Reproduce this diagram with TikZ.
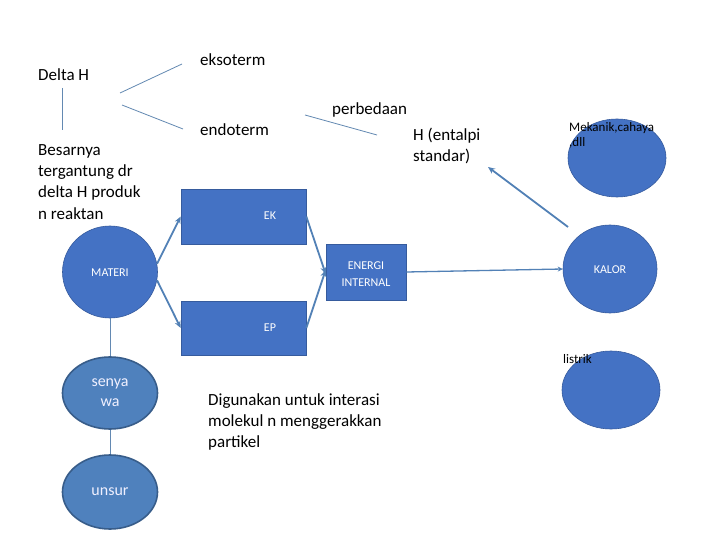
\documentclass[tikz,border=0pt]{standalone}
\usepackage{fontspec}
\setmainfont{Carlito}
\usepackage{xcolor}
\usetikzlibrary{arrows.meta,shapes.geometric}
\definecolor{officeblue}{HTML}{4472C4}
\definecolor{lineblue}{HTML}{6389B2}
\definecolor{arrowblue}{HTML}{5281B6}
\definecolor{oldblue}{HTML}{4F81BD}
\definecolor{oldedge}{HTML}{385D8A}

\begin{document}
\begin{tikzpicture}[x=1pt, y=-1pt, >={Stealth[length=7pt,width=6pt]},
  txt/.style={font=\fontsize{17}{21.3}\selectfont, align=left, inner sep=0},
  tiny/.style={font=\fontsize{13}{15}\selectfont, align=left, inner sep=0},
  wlbl/.style={font=\fontsize{12}{17}\selectfont, text=white, align=center, inner sep=0},
  box/.style={rectangle, fill=officeblue, draw=officeblue!80!black, line width=0.6pt},
  blob/.style={ellipse, fill=officeblue, draw=officeblue!80!black, line width=0.6pt, inner sep=0},
  oldblob/.style={ellipse, fill=oldblue, draw=oldedge, line width=1.6pt, inner sep=0,
    text=blue!6, font=\fontsize{16}{20}\selectfont, align=center},
  thinln/.style={lineblue, line width=0.8pt},
  arr/.style={->, arrowblue, line width=1.8pt}]
\useasboundingbox[fill=white] (0,0) rectangle (720,540);

% shapes
\node[blob, minimum width=98, minimum height=78] (mek) at (617,158) {};
\node[blob, minimum width=94, minimum height=88] (kalor) at (610,269) {};
\node[blob, minimum width=98, minimum height=78] (lis) at (611,390) {};
\node[blob, minimum width=95, minimum height=92] (materi) at (110,272) {};
\node[box, minimum width=125, minimum height=55] (ek) at (243.5,216.5) {};
\node[box, minimum width=125, minimum height=54] (ep) at (243.5,328) {};
\node[box, minimum width=80, minimum height=56] (energi) at (366,272) {};
\node[oldblob, minimum width=95, minimum height=72] (senya) at (110,393) {senya\\wa};
\node[oldblob, minimum width=95, minimum height=74] (unsur) at (110,492) {unsur};

% labels
\node[wlbl] (eklbl) at (270,216) {EK};
\node[wlbl] (eplbl) at (270,328) {EP};
\node[wlbl] (matlbl) at (110,273) {MATERI};
\node[wlbl] (kallbl) at (610,270) {KALOR};
\node[wlbl] (enlbl) at (366,274) {ENERGI\\INTERNAL};
\node[tiny, anchor=north west] (meklbl) at (569,122) {Mekanik,cahaya\\,dll};
\node[tiny, anchor=base west] (lislbl) at (563,363) {listrik};

\node[txt, anchor=base west] (dh) at (38,81) {Delta H};
\node[txt, anchor=base west] (ekso) at (200,66) {eksoterm};
\node[txt, anchor=base west] (endo) at (200,136) {endoterm};
\node[txt, anchor=base west] (beda) at (332,115) {perbedaan};
\node[txt, anchor=north west] (hent) at (413,128) {H (entalpi\\standar)};
\node[txt, anchor=north west] (besar) at (38,144) {Besarnya\\tergantung dr\\delta H produk\\n reaktan};
\node[txt, anchor=north west] (guna) at (208,393) {Digunakan untuk interasi\\molekul n menggerakkan\\partikel};

% thin lines
\coordinate (dh1) at (62,88);
\coordinate (dh2) at (62,130);
\coordinate (ek1) at (120,93);
\coordinate (ek2) at (182,64);
\coordinate (en1) at (122,105);
\coordinate (en2) at (183,129);
\coordinate (bd1) at (305,115);
\coordinate (bd2) at (377,135);
\foreach \a/\b in {dh1/dh2, ek1/ek2, en1/en2, bd1/bd2, materi.south/senya.north, senya.south/unsur.north}{
    \draw[thinln] (\a) -- (\b);
}

% arrows
\draw[arr] (materi.10) -- (ek.west);
\draw[arr] (materi.-10) -- (ep.west);
\draw[arr] (ek.east) -- ([yshift=-2]energi.west);
\draw[arr] (ep.east) -- ([yshift=2]energi.west);
\draw[->, arrowblue, line width=1.3pt, >={Stealth[length=5pt,width=5pt]}] (energi.east) -- (kalor.west);
\coordinate (kt) at (568,227);
\coordinate (ht) at (488,167);
\draw[arr] (kt) -- (ht);
\end{tikzpicture}
\end{document}
